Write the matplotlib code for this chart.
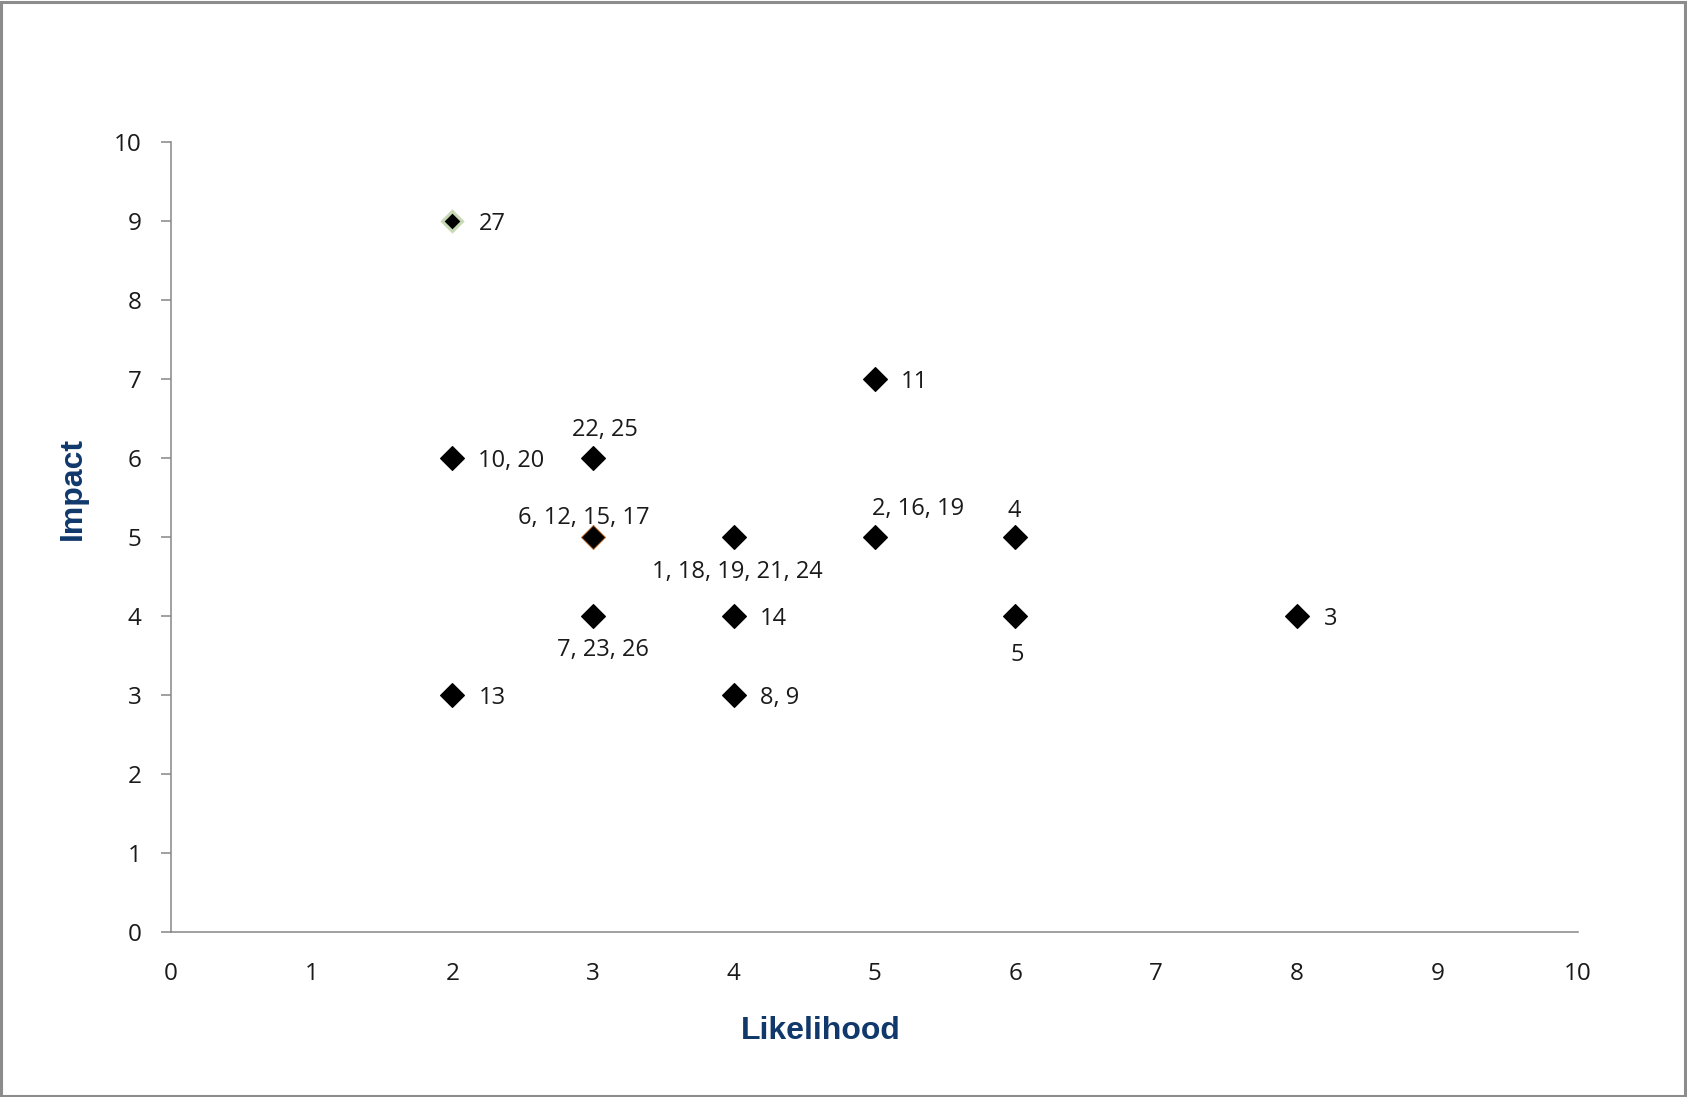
import matplotlib
matplotlib.use("Agg")
import matplotlib.pyplot as plt
from matplotlib.patches import Rectangle

# ---- data ----
likelihood = [2, 2, 2, 3, 3, 3, 4, 4, 4, 5, 5, 6, 6, 8]
impact = [9, 6, 3, 6, 5, 4, 5, 4, 3, 7, 5, 5, 4, 4]
point_labels = ['27', '10, 20', '13', '22, 25', '6, 12, 15, 17', '7, 23, 26',
                '1, 18, 19, 21, 24', '14', '8, 9', '11', '2, 16, 19', '4', '5', '3']
x_ticks = [0, 1, 2, 3, 4, 5, 6, 7, 8, 9, 10]
y_ticks = [0, 1, 2, 3, 4, 5, 6, 7, 8, 9, 10]

# ---- styling (label offsets in pixels: dx, dy (up positive), ha) ----
label_offsets = [
    (26, -3, 'left'), (26, -3, 'left'), (26, -3, 'left'),
    (12, 28, 'center'), (-9, 19, 'center'), (10, -34, 'center'),
    (4, -35, 'center'), (26, -3, 'left'), (26, -3, 'left'),
    (26, -3, 'left'), (44, 28, 'center'), (-1, 26, 'center'),
    (2, -39, 'center'), (27, -3, 'left'),
]

W, H = 1687, 1097
fig = plt.figure(figsize=(W / 100, H / 100), dpi=100)
fig.patch.set_facecolor('white')

left, right, top, bottom = 171, 1578, 142, 932
ax = fig.add_axes([left / W, 1 - bottom / H, (right - left) / W, (bottom - top) / H])

tick_font = 'Open Sans'
grey = '#868686'

for i, (x, y) in enumerate(zip(likelihood, impact)):
    if point_labels[i] == '27':
        ax.plot(x, y, marker='D', ms=10, mfc='black', mec='#c6d9b4', mew=2.2,
                ls='none', zorder=3)
    elif point_labels[i] == '6, 12, 15, 17':
        ax.plot(x, y, marker='D', ms=12.5, mfc='black', mec='#b8682a', mew=0.7,
                ls='none', zorder=3)
    else:
        ax.plot(x, y, marker='D', ms=12.5, mfc='black', mec='black', mew=0.8,
                ls='none', zorder=3)

for lab, x, y, (dx, dy, ha) in zip(point_labels, likelihood, impact, label_offsets):
    ax.annotate(lab, (x, y), xytext=(dx, dy), textcoords='offset pixels',
                ha=ha, va='center', fontsize=17, family=tick_font, color='#1a1a1a')

ax.set_xlim(0, 10)
ax.set_ylim(0, 10)
ax.set_xticks(x_ticks)
ax.set_yticks(y_ticks)
ax.set_xticklabels([str(t) for t in x_ticks], family=tick_font, fontsize=17.5, color='#1a1a1a')
ax.set_yticklabels([str(t) for t in y_ticks], family=tick_font, fontsize=17.5, color='#1a1a1a')
ax.tick_params(axis='x', length=0, pad=21.5)
ax.tick_params(axis='y', length=7.2, width=1.1, color=grey, pad=14)

for s in ['top', 'right']:
    ax.spines[s].set_visible(False)
for s in ['left', 'bottom']:
    ax.spines[s].set_color(grey)
    ax.spines[s].set_linewidth(1.1)

title_color = '#10386b'
fig.text(821 / W, 1 - 1031 / H, 'Likelihood', ha='center', va='center',
         fontsize=23, fontweight='bold', color=title_color, family='Liberation Sans')
fig.text(73 / W, 1 - 488 / H, 'Impact', ha='center', va='center', rotation=90,
         fontsize=23, fontweight='bold', color=title_color, family='Liberation Sans')

# outer border
fig.patches.append(Rectangle((0.0006, 0.0006), 0.9985, 0.9975, transform=fig.transFigure,
                             fill=False, edgecolor='#8c8c8c', linewidth=2.2))

fig.savefig('out.png', dpi=100)
